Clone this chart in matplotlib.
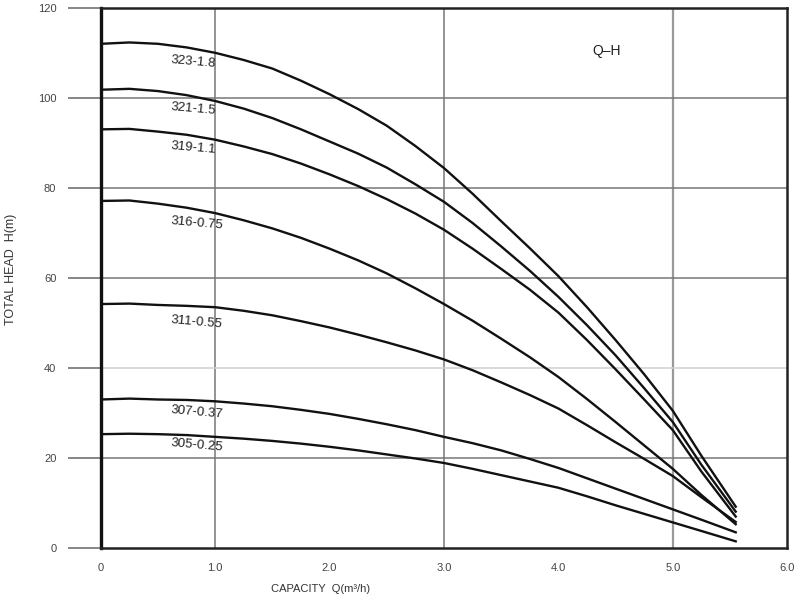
import matplotlib
matplotlib.use("Agg")
import matplotlib.pyplot as plt

plt.rcParams["font.family"] = ["Liberation Sans", "DejaVu Sans"]

# capacity points (m3/h)
capacity = [0, 0.25, 0.5, 0.75, 1.0, 1.25, 1.5, 1.75, 2.0, 2.25, 2.5, 2.75,
            3.0, 3.25, 3.5, 3.75, 4.0, 4.25, 4.5, 4.75, 5.0, 5.25, 5.55]

# total head (m) for each pump model
head_323 = [112.0, 112.3, 112.0, 111.2, 110.0, 108.4, 106.5, 103.8, 100.8, 97.5, 93.8, 89.3,
            84.4, 78.7, 72.6, 66.6, 60.4, 53.5, 46.2, 38.6, 30.5, 20.5, 9.2]
head_321 = [101.8, 102.0, 101.5, 100.6, 99.3, 97.6, 95.5, 93.0, 90.3, 87.6, 84.5, 80.8,
            76.9, 72.2, 67.0, 61.6, 55.8, 49.5, 42.8, 35.5, 28.0, 18.5, 8.1]
head_319 = [93.0, 93.1, 92.5, 91.8, 90.7, 89.2, 87.5, 85.4, 83.0, 80.4, 77.5, 74.3,
            70.7, 66.5, 62.0, 57.4, 52.3, 46.2, 39.7, 33.0, 26.2, 17.0, 7.0]
head_316 = [77.1, 77.2, 76.5, 75.6, 74.4, 72.8, 71.0, 68.9, 66.5, 63.9, 61.0, 57.7,
            54.2, 50.5, 46.5, 42.4, 38.0, 33.1, 28.0, 22.8, 17.6, 11.8, 5.3]
head_311 = [54.2, 54.3, 54.0, 53.8, 53.5, 52.7, 51.7, 50.4, 49.0, 47.4, 45.7, 43.9,
            41.9, 39.5, 36.8, 34.0, 31.0, 27.3, 23.5, 19.8, 16.0, 11.3, 5.8]
head_307 = [33.0, 33.2, 33.0, 32.9, 32.6, 32.1, 31.5, 30.7, 29.8, 28.7, 27.5, 26.2,
            24.7, 23.3, 21.7, 19.8, 17.8, 15.5, 13.2, 10.9, 8.6, 6.3, 3.5]
head_305 = [25.3, 25.4, 25.3, 25.1, 24.7, 24.3, 23.8, 23.2, 22.5, 21.7, 20.8, 19.9,
            18.9, 17.6, 16.2, 14.8, 13.4, 11.5, 9.5, 7.6, 5.7, 3.8, 1.5]

models = ["323-1.8", "321-1.5", "319-1.1", "316-0.75", "311-0.55", "307-0.37", "305-0.25"]
heads = [head_323, head_321, head_319, head_316, head_311, head_307, head_305]

x_ticks = [0, 1, 2, 3, 4, 5, 6]
x_tick_labels = ["0", "1.0", "2.0", "3.0", "4.0", "5.0", "6.0"]
y_ticks = [0, 20, 40, 60, 80, 100, 120]

# label placement (offset below the curve at Q=1, points)
label_drop = [6.5, 6, 6, 7, 11, 8, 6]

fig = plt.figure(figsize=(8, 5.99), dpi=100)
ax = fig.add_axes([0.126, 0.085, 0.858, 0.902])

# grid: vertical at 1, 3, 5 only
for xv in (1, 3, 5):
    ax.axvline(xv, color="#777777" if xv != 5 else "#999999",
               lw=1.1 if xv != 5 else 1.6, zorder=1)
for yv in y_ticks[1:-1]:
    ax.axhline(yv, color="#d0d0d0" if yv == 40 else "#777777", lw=1.1, zorder=1)

for name, h, drop in zip(models, heads, label_drop):
    ax.plot(capacity, h, color="#111111", lw=1.7, zorder=3, solid_joinstyle="round")
    ax.annotate(name, xy=(0.61, h[4]), xytext=(0, -drop), textcoords="offset points",
                ha="left", va="center", fontsize=9.5, rotation=-5, color="#222222")

ax.text(0.737, 0.92, "Q\u2013H", transform=ax.transAxes, fontsize=10,
        ha="center", va="center", color="#222222")

ax.set_xlim(0, 6)
ax.set_ylim(0, 120)
ax.set_xticks(x_ticks, labels=x_tick_labels)
ax.set_yticks(y_ticks)
ax.tick_params(axis="x", length=0, pad=11, labelsize=8, labelcolor="#444444")
ax.tick_params(axis="y", length=24, width=1.1, color="#666666", pad=8,
               labelsize=8, labelcolor="#444444")

for side in ("top", "right", "bottom"):
    ax.spines[side].set_linewidth(1.8)
    ax.spines[side].set_color("#222222")
ax.spines["left"].set_linewidth(2.4)
ax.spines["left"].set_color("#111111")

ax.set_xlabel("CAPACITY  Q(m\u00b3/h)", fontsize=8, color="#333333")
ax.xaxis.set_label_coords(0.32, -0.067)
ax.set_ylabel("TOTAL HEAD  H(m)", fontsize=9, color="#333333")
ax.yaxis.set_label_coords(-0.122, 0.515)

fig.savefig("out.png", dpi=100)
plt.close(fig)
